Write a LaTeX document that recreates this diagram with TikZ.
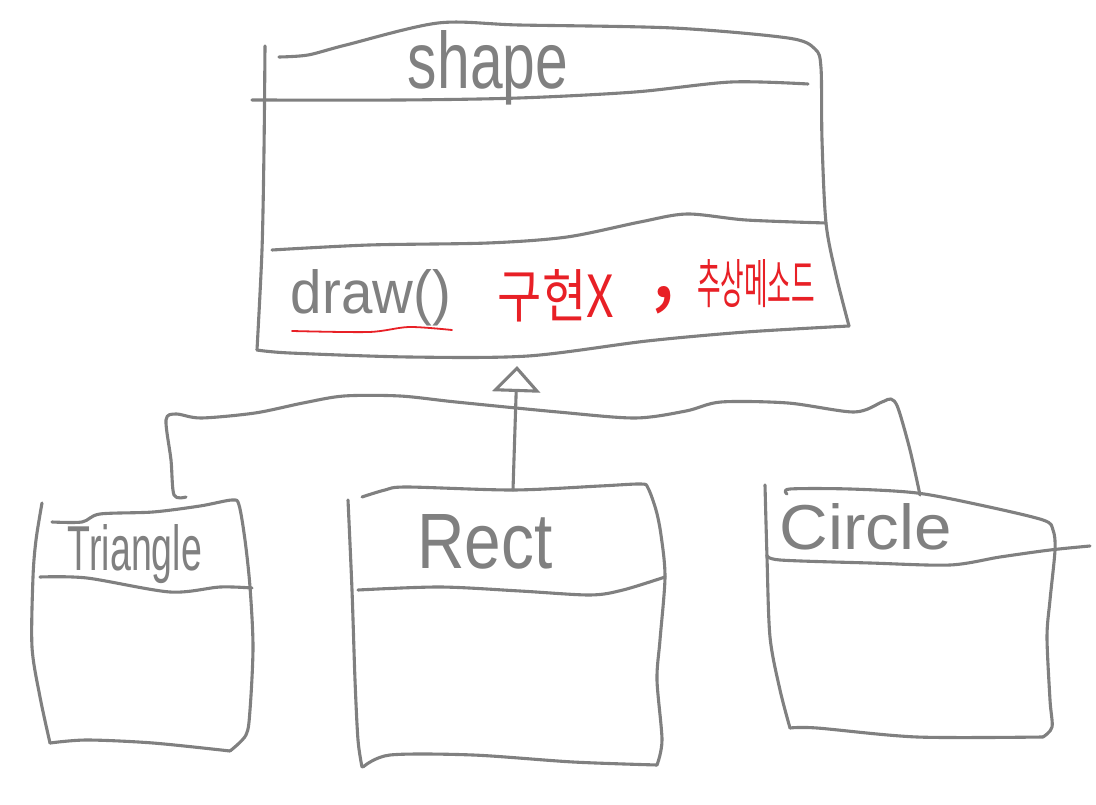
\documentclass[tikz,border=0pt]{standalone}
\usepackage{fontspec}
\setmainfont{Liberation Sans}
\newfontfamily\krfont{Noto Sans CJK KR}
\usepackage{graphicx}
\usetikzlibrary{arrows.meta}
\definecolor{pen}{RGB}{128,128,128}
\definecolor{redpen}{RGB}{232,32,38}
\tikzset{
  stroke/.style={draw=pen, line width=3.1pt, line cap=round, line join=round},
  redstroke/.style={draw=redpen, line width=1.8pt, line cap=round},
  hand/.style={text=pen, inner sep=0pt},
  redhand/.style={text=redpen, inner sep=0pt, font=\krfont},
}
\begin{document}
\begin{tikzpicture}[x=1pt, y=-1pt]
\useasboundingbox (0,0) rectangle (1096,805);
\fill[white] (0,0) rectangle (1096,805);

% ---------- Shape class ----------
\draw[stroke] plot[smooth, tension=0.5] coordinates {(265,46) (264,150) (262,250) (257,350)};
\draw[stroke] plot[smooth, tension=0.5] coordinates {(257,350) (290,353) (409,357) (528,356) (647,341) (746,332) (849,326)};
\draw[stroke] plot[smooth, tension=0.5] coordinates {(849,326) (836,275) (826,223) (822,140) (821,68) (815,49) (788,38) (673,28) (519,25) (438,23) (346,45) (308,55) (279,57)};
\draw[stroke] plot[smooth, tension=0.5] coordinates {(252,100) (400,100) (519,98) (635,92) (731,82) (808,84)};
\draw[stroke] plot[smooth, tension=0.5] coordinates {(272,250) (369,245) (488,243) (567,237) (640,222) (687,214) (746,220) (826,223)};
\node[hand] (shapename) at (488,68) {\resizebox{160pt}{58pt}{shape}};
\node[hand] (drawop) at (371,298) {\resizebox{160pt}{44pt}{draw()}};
\draw[redstroke] plot[smooth, tension=0.5] coordinates {(292,331) (369,332) (409,327) (452,330)};
\node[redhand] (impl) at (556,296) {\resizebox{116pt}{48pt}{구현X}};
\node[redhand] (comma) at (664,300) {\resizebox{!}{11pt}{,}};
\node[redhand] (abstract) at (756,284) {\resizebox{118pt}{44pt}{추상메소드}};

% ---------- Triangle class ----------
\draw[stroke] plot[smooth, tension=0.5] coordinates {(42,503) (36,540) (33,577) (32,647) (40,697) (50,743)};
\draw[stroke] plot[smooth, tension=0.5] coordinates {(52,522) (82,522) (100,514) (153,512) (200,506) (232,500) (239,505) (245,540) (250,587) (253,647) (250,710) (246,735) (230,751)};
\draw[stroke] plot[smooth, tension=0.5] coordinates {(230,751) (153,743) (87,740) (50,743)};
\draw[stroke] plot[smooth, tension=0.5] coordinates {(40,577) (87,578) (170,592) (220,587) (252,588)};
\node[hand] (triname) at (135,554) {\resizebox{134pt}{46pt}{Triangle}};

% ---------- Rect class ----------
\draw[stroke] plot[smooth, tension=0.5] coordinates {(348,500) (352,590) (355,680) (358,740) (362,767)};
\draw[stroke] plot[smooth, tension=0.5] coordinates {(362,497) (385,490) (407,487) (513,490) (600,486) (641,484) (648,488) (656,510) (661,535) (665,577) (660,640) (657,680) (662,740) (657,765)};
\draw[stroke] plot[smooth, tension=0.5] coordinates {(657,765) (573,762) (473,755) (390,755) (363,767)};
\draw[stroke] plot[smooth, tension=0.5] coordinates {(358,590) (440,587) (520,591) (590,595) (623,590) (665,577)};
\node[hand] (rectname) at (485,542) {\resizebox{135pt}{54pt}{Rect}};

% ---------- Circle class ----------
\draw[stroke] plot[smooth, tension=0.5] coordinates {(765,485) (767,557) (770,637) (780,690) (790,728)};
\draw[stroke] plot[smooth, tension=0.5] coordinates {(787,494) (790,489) (850,489) (917,493) (980,505) (1043,520) (1053,530) (1055,550) (1050,600) (1047,637) (1050,700) (1052,727) (1043,737)};
\draw[stroke] plot[smooth, tension=0.5] coordinates {(1043,737) (917,737) (817,728) (790,728)};
\draw[stroke] plot[smooth, tension=0.5] coordinates {(767,555) (780,560) (870,563) (950,565) (1000,557) (1050,550) (1090,546)};
\node[hand] (circname) at (866,527) {\resizebox{172pt}{46pt}{Circle}};

% ---------- Generalisation ----------
\coordinate (shapeBottom) at (517,366);
\coordinate (rectTop) at (513,490);
\coordinate (triTop) at (186,497);
\coordinate (circTop) at (920,495);
\draw[stroke, -{Triangle[open, length=26pt, width=48pt]}] (rectTop) -- (shapeBottom);
\draw[stroke] plot[smooth, tension=0.5] coordinates {(triTop) (174,495) (171,460) (166,420) (176,414) (201,418) (255,413) (303,403) (344,396) (400,396) (456,402) (558,412) (635,418) (686,411) (721,402) (788,403) (854,412) (882,402) (891,399) (898,408) (910,450) (circTop)};
\end{tikzpicture}
\end{document}
